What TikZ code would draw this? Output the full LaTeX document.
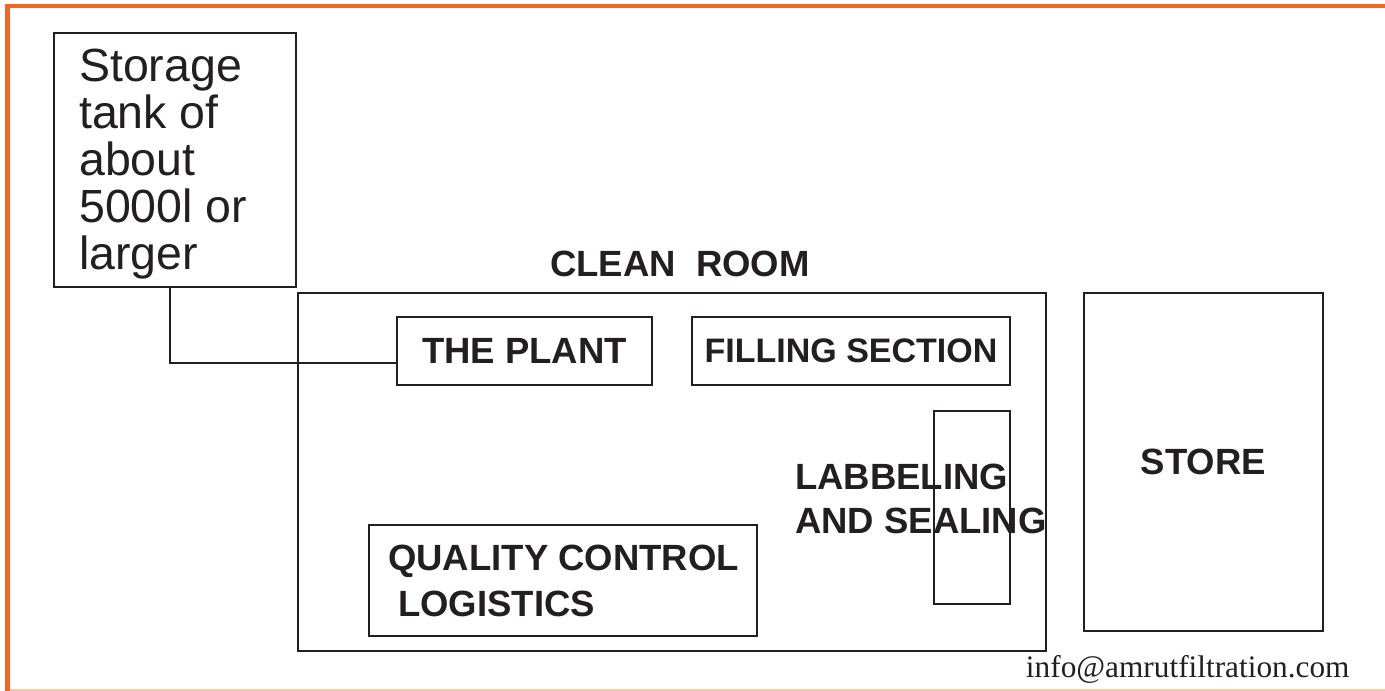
\documentclass[tikz,border=0pt]{standalone}
\usepackage{fontspec}
\setmainfont{Liberation Sans}
\newfontfamily\mailfont{Liberation Serif}
\definecolor{ink}{RGB}{35,31,32}
\definecolor{frame}{RGB}{242,101,34}
\definecolor{framelight}{RGB}{252,200,170}
\newcommand{\bigbold}{\fontsize{36.5}{44}\selectfont\bfseries}

\begin{document}
\begin{tikzpicture}[x=1pt,y=-1pt,
			box/.style={draw=ink,line width=2.5pt,rectangle,inner sep=0pt,outer sep=0pt,anchor=north west},
			lbl/.style={font=\bigbold,text=ink},
			txt/.style={anchor=north west,align=left,inner sep=0pt,text=ink}]
			\useasboundingbox (0,0) rectangle (1385,691);
			\draw[frame,line width=4.5pt] (1385,6) -- (7.5,6) -- (7.5,691);
			\draw[framelight,line width=2pt] (10,690) -- (1385,690);
			\node[box,minimum width=242pt,minimum height=254pt] (tank) at (54,33) {};
			\node[txt,font=\fontsize{46.5}{47}\selectfont] (tanktxt) at (79,49) {Storage\\tank of\\about\\5000l or\\larger};
			\node[box,minimum width=748pt,minimum height=358pt] (clean) at (298,293) {};
			\node[lbl,anchor=base] (cleantxt) at (680,276) {CLEAN\ \ ROOM};
			\node[box,lbl,minimum width=255pt,minimum height=68pt] (plant) at (397,317) {THE PLANT};
			\node[box,lbl,minimum width=318pt,minimum height=68pt,font=\fontsize{34}{40}\selectfont\bfseries] (fill) at (692,317) {FILLING SECTION};
			\node[box,minimum width=76pt,minimum height=193pt] (seal) at (934,411) {};
			\node[txt,lbl] (sealtxt) at (795,464) {LABBELING\\AND SEALING};
			\node[box,minimum width=388pt,minimum height=111pt] (qc) at (369,525) {};
			\node[txt,font=\fontsize{36.5}{45.5}\selectfont\bfseries] (qctxt) at (388,545) {QUALITY CONTROL\\\hspace*{10pt}LOGISTICS};
			\node[box,lbl,minimum width=239pt,minimum height=338pt] (store) at (1084,293) {STORE};
			\node[anchor=base east,font=\mailfont\fontsize{31.3}{36}\selectfont,text=ink] (mail) at (1353,677) {info@amrutfiltration.com};
			\draw[ink,line width=2.5pt] (tank.south) ++(-5,0) |- ([yshift=-12pt]plant.west);
		\end{tikzpicture}
\end{document}
